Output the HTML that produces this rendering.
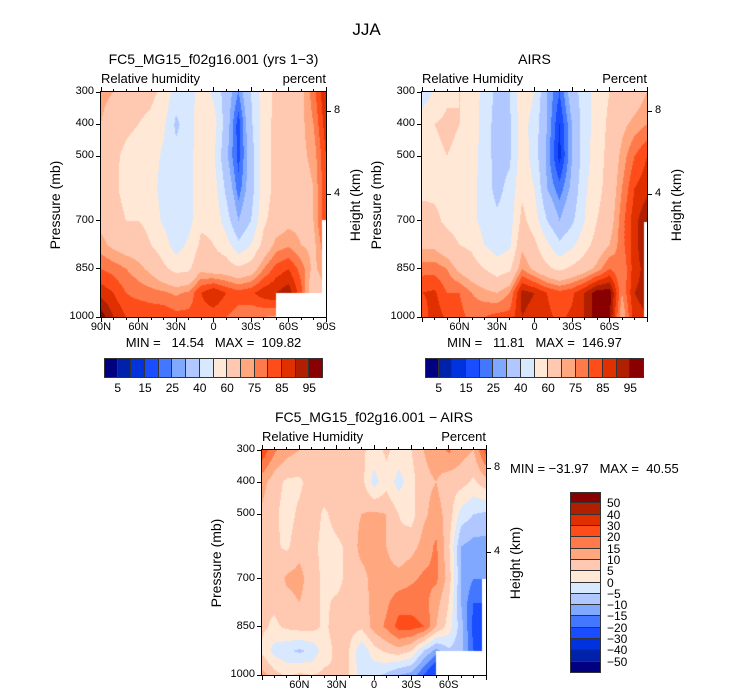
<!DOCTYPE html>
<html><head><meta charset="utf-8">
<style>
body{margin:0;background:#fff;}
#root{position:relative;width:733px;height:699px;overflow:hidden;font-family:"Liberation Sans",sans-serif;color:#000;}
.t{position:absolute;white-space:pre;}
canvas{position:absolute;}
</style></head>
<body>
<div id="root">
<div class="t" style="left:0;width:733px;top:20px;text-align:center;font-size:17px;">JJA</div>
</div>
<script>
const lats=[90,80,70,60,50,40,30,20,10,0,-10,-20,-30,-40,-50,-60,-70,-80,-90];
const pres=[300,400,500,600,700,775,850,925,1000];
const modelRH=[
[72,70,65,63,62,58,45,45,55,48,35,25,40,55,62,65,68,78,90],
[70,65,62,60,58,52,38,45,56,55,35,17,38,55,63,65,68,75,88],
[68,62,58,56,55,48,43,45,58,52,32,18,35,55,63,65,68,72,85],
[65,62,57,58,55,45,43,45,58,55,38,22,35,55,63,65,66,70,85],
[68,64,60,60,57,48,43,46,58,58,45,30,40,58,65,68,68,70,85],
[72,68,66,65,60,55,45,52,62,60,55,42,50,63,72,74,70,68,80],
[80,78,75,72,68,62,57,58,68,65,65,62,65,75,82,85,78,68,75],
[88,85,80,78,77,76,74,76,85,90,85,82,84,88,90,93,82,62,70],
[98,90,85,85,84,84,82,82,82,82,80,78,76,75,74,74,74,70,70]];
const airsRH=[
[42,52,58,60,58,45,38,40,58,50,30,20,35,45,55,60,62,65,70],
[58,60,62,60,56,45,36,38,55,45,30,15,30,45,55,62,68,72,75],
[55,58,60,58,55,45,36,38,56,45,28,13,30,45,56,63,72,80,85],
[57,58,58,56,53,45,37,43,58,50,30,22,32,48,57,64,75,85,88],
[65,62,58,56,53,46,42,45,63,55,40,30,38,50,60,66,78,88,95],
[68,68,64,60,58,50,45,48,68,62,52,42,48,56,64,70,78,88,95],
[78,78,75,68,64,60,55,58,75,68,62,58,62,66,72,80,75,88,92],
[85,86,80,80,75,72,70,75,92,90,85,82,84,90,98,98,75,90,92],
[82,88,84,82,78,80,82,82,90,88,86,84,86,90,98,96,70,88,90]];
const diffRH=[
[24,16,12,10,8,8,7,10,6,3,6,3,5,10,12,16,12,10,22],
[12,7,4,4,7,8,10,8,7,-2,3,-2,3,9,10,7,7,4,8],
[9,6,3,6,8,4,7,8,10,11,10,5,3,9,12,8,-2,-5,-6],
[9,6,4,8,7,3,4,6,12,12,10,6,8,12,16,6,-10,-12,-12],
[7,6,11,12,7,4,3,7,8,12,12,12,14,16,16,8,-10,-15,-15],
[6,6,8,10,7,4,6,7,7,12,14,18,18,17,12,5,-10,-20,-20],
[6,4,6,7,7,4,7,7,6,12,16,22,22,20,10,3,-8,-22,-22],
[4,-2,-4,-6,-4,3,6,5,-4,3,6,8,5,-5,-12,-6,-8,-20,-20],
[12,7,4,6,5,6,5,5,-3,-4,-6,-10,-12,-20,-30,-30,-30,-30,-30]];
const rhLevels=[5,10,15,20,25,30,40,50,60,70,75,80,85,90,95];
const rhLabels=["5","15","25","40","60","75","85","95"];
const diffLevels=[-50,-40,-30,-20,-15,-10,-5,0,5,10,15,20,30,40,50];
const diffLabels=["50","40","30","20","15","10","5","0","\u22125","\u221210","\u221215","\u221220","\u221230","\u221240","\u221250"];
const stats1=["14.54","109.82"],stats2=["11.81","146.97"],stats3=["\u221231.97","40.55"];
const colors=["#000080","#0022aa","#0033dd","#1a4dff","#4477ff","#80a8ff","#b0c8ff","#d8e8ff","#ffe8d6","#ffc8b0","#ffa880","#ff7a4a","#ff4d1a","#e03000","#b02000","#880000"];

const root=document.getElementById('root');
function txt(name,s,l,t,style){const d=document.createElement('div');d.className='t';


d.textContent=s;d.style.left=l+'px';d.style.top=t+'px';d.style.cssText+=style||'';root.appendChild(d);return d;}
function rect(name,l,t,w,h,style){const d=document.createElement('div');


d.style.cssText='position:absolute;left:'+l+'px;top:'+t+'px;width:'+w+'px;height:'+h+'px;'+(style||'');root.appendChild(d);return d;}
function colorIdx(v,levels){let i=0;while(i<levels.length&&v>=levels[i])i++;return i;}
function interp(grid,lat,p){
 let fi=(90-lat)/10;let c0=Math.min(17,Math.floor(fi));let fx=fi-c0;
 let r0=0;while(r0<pres.length-2&&p>pres[r0+1])r0++;
 let fy=(p-pres[r0])/(pres[r0+1]-pres[r0]);
 const a=grid[r0][c0],b=grid[r0][c0+1],c=grid[r0+1][c0],d=grid[r0+1][c0+1];
 return a*(1-fx)*(1-fy)+b*fx*(1-fy)+c*(1-fx)*fy+d*fx*fy;}
function panel(id,grid,levels,x0,y0,W,H,masks,opts){
 const cv=document.createElement('canvas');cv.width=W;cv.height=H;cv.style.left=x0+'px';cv.style.top=y0+'px';
 
 
 root.appendChild(cv);const ctx=cv.getContext('2d');
 for(let y=0;y<H;y++)for(let x=0;x<W;x++){
  const lat=90-180*(x+0.5)/W,p=300+700*(y+0.5)/H;
  ctx.fillStyle=colors[colorIdx(interp(grid,lat,p),levels)];ctx.fillRect(x,y,1,1);}
 ctx.fillStyle='#fff';masks.forEach(m=>ctx.fillRect(m[0],m[1],m[2],m[3]));
 rect(id+'-frame',x0-1,y0-1,W,H,'border:1px solid #000;');
 [300,400,500,700,850,1000].forEach(p=>{const y=y0+(p-300)/700*H;
  rect(id+'-ytick',x0-5,y-0.5,5,1,'background:#000;');
  txt(id+'-ytick-label',String(p),x0-40,y-7,'width:33px;text-align:right;font-size:11px;');});
 txt(id+'-y-axis-title','Pressure (mb)',x0-100,y0+H/2-9,'width:100px;text-align:center;font-size:14px;transform:rotate(-90deg);transform-origin:50px 9px;left:'+(x0-95)+'px;');
 opts.hk.forEach((k,i)=>{const y=opts.hy[i];rect(id+'-height-tick',x0+W,y-0.5,5,1,'background:#000;');
  txt(id+'-height-label',k,x0+W+8,y-7,'font-size:11px;');});
 txt(id+'-height-axis-title','Height (km)',x0+W+20,y0+H/2-9,'width:100px;text-align:center;font-size:14px;transform:rotate(-90deg);transform-origin:50px 9px;left:'+(x0+W-20)+'px;');
 for(let l=-90;l<=90;l+=10){const x=x0+(90-l)/180*W;const maj=(l%30===0);
  rect(id+'-xtick-top',x-0.5,y0-(maj?5:3),1,maj?5:3,'background:#000;');
  rect(id+'-xtick-bottom',x-0.5,y0+H,1,maj?5:3,'background:#000;');}
 opts.xl.forEach(l=>{const x=x0+(90-l)/180*W;const s=l===0?'0':(Math.abs(l)+(l>0?'N':'S'));
  txt(id+'-xtick-label',s,x-20,y0+H+4,'width:40px;text-align:center;font-size:11px;');});
 txt(id+'-variable-label',opts.var,x0,y0-21,'font-size:13px;');
 txt(id+'-units-label',opts.units,x0+W-100,y0-21,'width:100px;text-align:right;font-size:13px;');
 txt(id+'-title',opts.title,x0-10,y0-41,'width:'+(W+20)+'px;text-align:center;font-size:14px;');
}
function hbar(id,x0,y0,W,H,labels){const n=colors.length;const bw=W/n;
 for(let i=0;i<n;i++)rect(id+'-color-box',x0+i*bw,y0,bw,H,'background:'+colors[i]+';box-sizing:border-box;border:1px solid #333;border-left-width:'+(i?0:1)+'px;');
 labels.forEach((s,j)=>{const x=x0+(2*j+1)*bw;txt(id+'-label',s,x-15,y0+H+3,'width:30px;text-align:center;font-size:12px;');});}
function vbar(id,x0,y0,W,H,labels){const n=colors.length;const bh=H/n;
 for(let i=0;i<n;i++)rect(id+'-color-box',x0,y0+i*bh,W,bh,'background:'+colors[n-1-i]+';box-sizing:border-box;border:1px solid #333;border-top-width:'+(i?0:1)+'px;');
 labels.forEach((s,j)=>{const y=y0+(j+1)*bh;txt(id+'-label',s,x0+W+6,y-7,'font-size:12px;');});}

panel('model',modelRH,rhLevels,101,92,225,225,[[175,201,51,24],[221,128,4,97]],
 {hk:['8','4'],hy:[111,194],xl:[90,60,30,0,-30,-60,-90],var:'Relative humidity',units:'percent',title:'FC5_MG15_f02g16.001 (yrs 1\u22123)'});
txt('model-min-max','MIN =   '+stats1[0]+'   MAX =  '+stats1[1],101,335,'width:225px;text-align:center;font-size:13px;');
hbar('model-colorbar',104,358,219,20,rhLabels);

panel('airs',airsRH,rhLevels,422,92,225,225,[[222,130,3,95]],
 {hk:['8','4'],hy:[111,194],xl:[60,30,0,-30,-60],var:'Relative Humidity',units:'Percent',title:'AIRS'});
txt('airs-min-max','MIN =   '+stats2[0]+'   MAX =  '+stats2[1],422,335,'width:225px;text-align:center;font-size:13px;');
hbar('airs-colorbar',425,358,219,20,rhLabels);

panel('diff',diffRH,diffLevels,262,450,224,225,[[174,201,50,24],[220,129,4,96]],
 {hk:['8','4'],hy:[468,552],xl:[60,30,0,-30,-60],var:'Relative Humidity',units:'Percent',title:'FC5_MG15_f02g16.001 \u2212 AIRS'});
txt('diff-min-max','MIN = '+stats3[0]+'   MAX =  '+stats3[1],510,461,'font-size:13px;');
vbar('diff-colorbar',570,492,31,181,diffLabels);
</script>
</body></html>
